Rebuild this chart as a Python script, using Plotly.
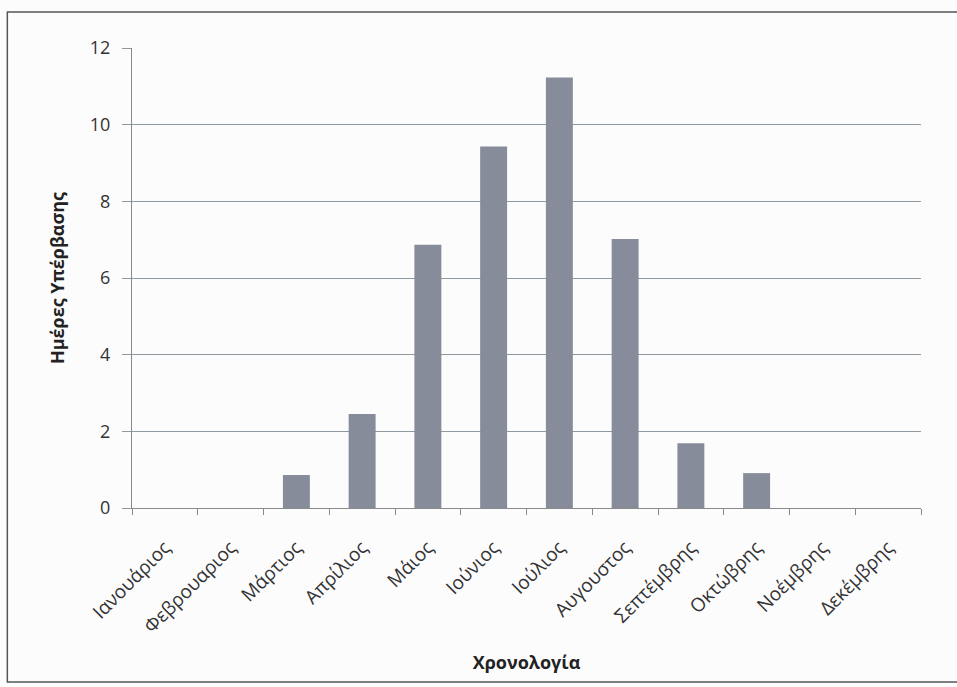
import plotly.graph_objects as go

# Monthly exceedance days
months = ["Ιανουάριος", "Φεβρουαριος", "Μάρτιος", "Απρίλιος", "Μάιος", "Ιούνιος",
          "Ιούλιος", "Αυγουστος", "Σεπτέμβρης", "Οκτώβρης", "Νοέμβρης", "Δεκέμβρης"]
days = [0, 0, 0.86, 2.45, 6.87, 9.43, 11.23, 7.02, 1.69, 0.91, 0, 0]
y_ticks = [0, 2, 4, 6, 8, 10, 12]

font_family = "Open Sans"

fig = go.Figure(
    go.Bar(
        x=months,
        y=days,
        marker=dict(color="#878c9b", line=dict(width=0)),
    )
)

fig.update_layout(
    width=957,
    height=687,
    margin=dict(l=132, r=36, t=48, b=179),
    paper_bgcolor="#fcfcfd",
    plot_bgcolor="#fcfcfd",
    bargap=0.59,
    showlegend=False,
    font=dict(family=font_family, size=16, color="#333"),
)

fig.update_xaxes(
    tickangle=-45,
    tickfont=dict(size=19, color="#333"),
    ticklabelstandoff=20,
    showline=True,
    linecolor="#8a8a8a",
    linewidth=1,
    ticks="outside",
    tickson="boundaries",
    ticklen=6,
    tickcolor="#8a8a8a",
    showgrid=False,
    title=dict(text="<b>Χρονολογία</b>", font=dict(size=18, color="#222"), standoff=18),
)

fig.update_yaxes(
    range=[0, 12],
    tickvals=y_ticks,
    tickfont=dict(size=18, color="#333"),
    ticklabelstandoff=8,
    showline=True,
    linecolor="#8a8a8a",
    linewidth=1,
    ticks="outside",
    ticklen=9,
    tickcolor="#8e9aa0",
    showgrid=True,
    gridcolor="#8e9aa0",
    gridwidth=1,
    zeroline=False,
    title=dict(text="<b>Ημέρες Υπέρβασης</b>", font=dict(size=18, color="#222"), standoff=20),
)

# Outer chart frame
fig.add_shape(
    type="rect",
    xref="paper", yref="paper",
    x0=-0.158, x1=1.06, y0=-0.378, y1=1.078,
    line=dict(color="#555", width=1.5),
    fillcolor="rgba(0,0,0,0)",
    layer="below",
)

fig.write_html("out.html")
